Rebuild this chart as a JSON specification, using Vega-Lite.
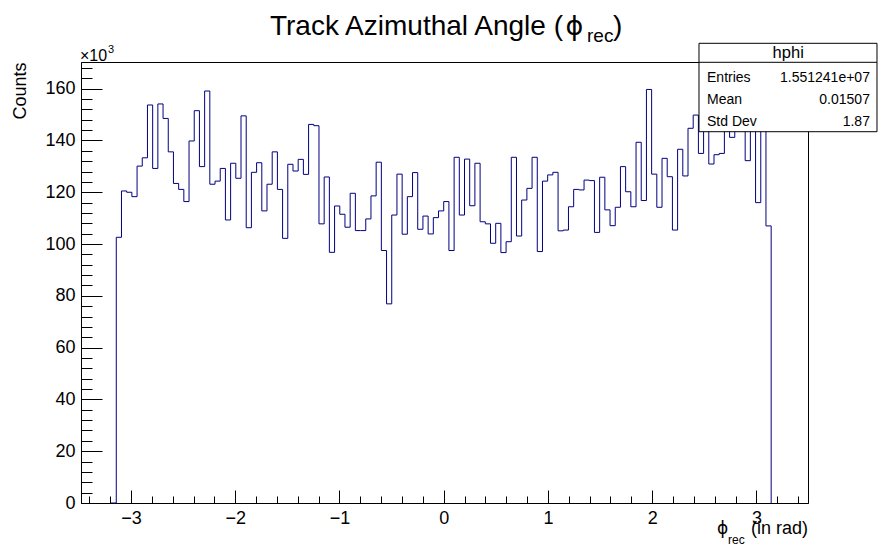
{
  "$schema": "https://vega.github.io/schema/vega-lite/v6.json",
  "autosize": "none",
  "width": 727,
  "height": 441,
  "padding": {"left": 81, "top": 62, "right": 71, "bottom": 44},
  "background": "white",
  "config": {
    "view": {"stroke": "black", "strokeWidth": 1},
    "font": "Liberation Sans",
    "axis": {"grid": false, "domainColor": "black", "tickColor": "black", "labelColor": "black", "labelFont": "Liberation Sans", "titleFont": "Liberation Sans"}
  },
  "data": {"values": [
    {"phi": -3.1915, "counts": 0},
    {"phi": -3.1416, "counts": 102600},
    {"phi": -3.0917, "counts": 120500},
    {"phi": -3.0419, "counts": 120000},
    {"phi": -2.992, "counts": 118300},
    {"phi": -2.9421, "counts": 130100},
    {"phi": -2.8923, "counts": 133300},
    {"phi": -2.8424, "counts": 153700},
    {"phi": -2.7925, "counts": 129200},
    {"phi": -2.7427, "counts": 154100},
    {"phi": -2.6928, "counts": 148500},
    {"phi": -2.6429, "counts": 135600},
    {"phi": -2.5931, "counts": 123400},
    {"phi": -2.5432, "counts": 121100},
    {"phi": -2.4933, "counts": 116400},
    {"phi": -2.4435, "counts": 139800},
    {"phi": -2.3936, "counts": 151500},
    {"phi": -2.3437, "counts": 129900},
    {"phi": -2.2939, "counts": 159100},
    {"phi": -2.244, "counts": 123100},
    {"phi": -2.1941, "counts": 124300},
    {"phi": -2.1443, "counts": 129200},
    {"phi": -2.0944, "counts": 109300},
    {"phi": -2.0445, "counts": 131200},
    {"phi": -1.9947, "counts": 125400},
    {"phi": -1.9448, "counts": 149500},
    {"phi": -1.8949, "counts": 106300},
    {"phi": -1.8451, "counts": 127700},
    {"phi": -1.7952, "counts": 131400},
    {"phi": -1.7453, "counts": 112800},
    {"phi": -1.6955, "counts": 123100},
    {"phi": -1.6456, "counts": 135600},
    {"phi": -1.5957, "counts": 121100},
    {"phi": -1.5459, "counts": 102200},
    {"phi": -1.496, "counts": 130800},
    {"phi": -1.4461, "counts": 128200},
    {"phi": -1.3963, "counts": 132700},
    {"phi": -1.3464, "counts": 126900},
    {"phi": -1.2965, "counts": 146200},
    {"phi": -1.2467, "counts": 145700},
    {"phi": -1.1968, "counts": 107800},
    {"phi": -1.1469, "counts": 125900},
    {"phi": -1.0971, "counts": 96800},
    {"phi": -1.0472, "counts": 114700},
    {"phi": -0.9973, "counts": 111500},
    {"phi": -0.9475, "counts": 106500},
    {"phi": -0.8976, "counts": 119600},
    {"phi": -0.8477, "counts": 105200},
    {"phi": -0.7979, "counts": 105200},
    {"phi": -0.748, "counts": 109700},
    {"phi": -0.6981, "counts": 118600},
    {"phi": -0.6483, "counts": 131600},
    {"phi": -0.5984, "counts": 97500},
    {"phi": -0.5485, "counts": 76900},
    {"phi": -0.4987, "counts": 111200},
    {"phi": -0.4488, "counts": 127000},
    {"phi": -0.3989, "counts": 103800},
    {"phi": -0.3491, "counts": 118300},
    {"phi": -0.2992, "counts": 127600},
    {"phi": -0.2493, "counts": 105700},
    {"phi": -0.1995, "counts": 110800},
    {"phi": -0.1496, "counts": 103900},
    {"phi": -0.0997, "counts": 110200},
    {"phi": -0.0499, "counts": 112800},
    {"phi": 0.0, "counts": 116400},
    {"phi": 0.0499, "counts": 97500},
    {"phi": 0.0997, "counts": 133500},
    {"phi": 0.1496, "counts": 111200},
    {"phi": 0.1995, "counts": 132800},
    {"phi": 0.2493, "counts": 114800},
    {"phi": 0.2992, "counts": 131200},
    {"phi": 0.3491, "counts": 108600},
    {"phi": 0.3989, "counts": 107800},
    {"phi": 0.4488, "counts": 100300},
    {"phi": 0.4987, "counts": 108000},
    {"phi": 0.5485, "counts": 96700},
    {"phi": 0.5984, "counts": 100900},
    {"phi": 0.6483, "counts": 133500},
    {"phi": 0.6981, "counts": 103100},
    {"phi": 0.748, "counts": 117000},
    {"phi": 0.7979, "counts": 121500},
    {"phi": 0.8477, "counts": 133500},
    {"phi": 0.8976, "counts": 97100},
    {"phi": 0.9475, "counts": 124300},
    {"phi": 0.9973, "counts": 126700},
    {"phi": 1.0472, "counts": 127700},
    {"phi": 1.0971, "counts": 105100},
    {"phi": 1.1469, "counts": 105400},
    {"phi": 1.1968, "counts": 114400},
    {"phi": 1.2467, "counts": 121100},
    {"phi": 1.2965, "counts": 120900},
    {"phi": 1.3464, "counts": 124700},
    {"phi": 1.3963, "counts": 124500},
    {"phi": 1.4461, "counts": 104500},
    {"phi": 1.496, "counts": 125800},
    {"phi": 1.5459, "counts": 113200},
    {"phi": 1.5957, "counts": 107100},
    {"phi": 1.6456, "counts": 114200},
    {"phi": 1.6955, "counts": 129900},
    {"phi": 1.7453, "counts": 120200},
    {"phi": 1.7952, "counts": 114400},
    {"phi": 1.8451, "counts": 139300},
    {"phi": 1.8949, "counts": 116800},
    {"phi": 1.9448, "counts": 159700},
    {"phi": 1.9947, "counts": 127000},
    {"phi": 2.0445, "counts": 114200},
    {"phi": 2.0944, "counts": 133100},
    {"phi": 2.1443, "counts": 126000},
    {"phi": 2.1941, "counts": 105400},
    {"phi": 2.244, "counts": 136600},
    {"phi": 2.2939, "counts": 126300},
    {"phi": 2.3437, "counts": 144700},
    {"phi": 2.3936, "counts": 149800},
    {"phi": 2.4435, "counts": 135000},
    {"phi": 2.4933, "counts": 150000},
    {"phi": 2.5432, "counts": 130900},
    {"phi": 2.5931, "counts": 134500},
    {"phi": 2.6429, "counts": 135000},
    {"phi": 2.6928, "counts": 148000},
    {"phi": 2.7427, "counts": 141200},
    {"phi": 2.7925, "counts": 151000},
    {"phi": 2.8424, "counts": 146000},
    {"phi": 2.8923, "counts": 132200},
    {"phi": 2.9421, "counts": 152000},
    {"phi": 2.992, "counts": 116000},
    {"phi": 3.0419, "counts": 148000},
    {"phi": 3.0917, "counts": 107000},
    {"phi": 3.1416, "counts": 0}
  ]},
  "resolve": {"axis": {"x": "independent", "y": "independent"}},
  "layer": [
    {
      "mark": {"type": "line", "interpolate": "step-after", "color": "#000080", "strokeWidth": 1},
      "encoding": {
        "x": {"field": "phi", "type": "quantitative", "sort": null,
          "scale": {"domain": [-3.48, 3.495], "nice": false, "zero": false},
          "axis": {"orient": "bottom", "values": [-3, -2, -1, 0, 1, 2, 3], "tickSize": -13, "labelPadding": 19, "labelFontSize": 18, "title": null, "domainWidth": 1, "tickWidth": 1, "labelFlush": false}},
        "y": {"field": "counts", "type": "quantitative",
          "scale": {"domain": [0, 170300], "nice": false, "zero": true},
          "axis": {"orient": "left", "values": [0, 20000, 40000, 60000, 80000, 100000, 120000, 140000, 160000], "labelExpr": "format(datum.value / 1000, 'd')", "tickSize": -21, "labelPadding": 27, "labelFontSize": 18, "labelFlush": false,
            "title": "Counts", "titleFontSize": 18, "titleFontWeight": "normal", "titleColor": "black", "titleAngle": 270, "titleAlign": "right", "titleBaseline": "middle", "titleX": -61, "titleY": 0}}
      }
    },
    {
      "mark": {"type": "line", "interpolate": "step-after", "strokeOpacity": 0},
      "encoding": {
        "x": {"field": "phi", "type": "quantitative", "sort": null,
          "scale": {"domain": [-3.48, 3.495], "nice": false, "zero": false},
          "axis": {"orient": "bottom", "values": [-3.4, -3.2, -2.8, -2.6, -2.4, -2.2, -1.8, -1.6, -1.4, -1.2, -0.8, -0.6, -0.4, -0.2, 0.2, 0.4, 0.6, 0.8, 1.2, 1.4, 1.6, 1.8, 2.2, 2.4, 2.6, 2.8, 3.2, 3.4], "tickSize": -7, "labels": false, "domain": false, "title": null}},
        "y": {"field": "counts", "type": "quantitative",
          "scale": {"domain": [0, 170300], "nice": false, "zero": true},
          "axis": {"orient": "left", "values": [4000, 8000, 12000, 16000, 24000, 28000, 32000, 36000, 44000, 48000, 52000, 56000, 64000, 68000, 72000, 76000, 84000, 88000, 92000, 96000, 104000, 108000, 112000, 116000, 124000, 128000, 132000, 136000, 144000, 148000, 152000, 156000, 164000, 168000], "tickSize": -11, "labels": false, "domain": false, "title": null}}
      }
    },
    {
      "data": {"values": [{}]},
      "mark": {"type": "rect", "fill": "white", "stroke": "black", "strokeWidth": 1},
      "encoding": {
        "x": {"datum": 2.4492, "type": "quantitative", "axis": null},
        "x2": {"datum": 4.157},
        "y": {"datum": 177520, "type": "quantitative", "axis": null},
        "y2": {"datum": 143380}
      }
    },
    {
      "data": {"values": [{}]},
      "mark": {"type": "rule", "color": "black", "strokeWidth": 1},
      "encoding": {
        "x": {"datum": 2.4492, "type": "quantitative", "axis": null},
        "x2": {"datum": 4.157},
        "y": {"datum": 170180, "type": "quantitative", "axis": null}
      }
    },
    {
      "data": {"values": [{}]},
      "mark": {"type": "text", "text": "Track Azimuthal Angle (", "align": "right", "baseline": "alphabetic", "fontSize": 28, "color": "black"},
      "encoding": {"x": {"datum": 1.1446, "type": "quantitative", "axis": null}, "y": {"datum": 180700, "type": "quantitative", "axis": null}}
    },
    {
      "data": {"values": [{}]},
      "mark": {"type": "text", "text": "ϕ", "font": "DejaVu Sans", "align": "center", "baseline": "alphabetic", "fontSize": 27, "color": "black"},
      "encoding": {"x": {"datum": 1.255, "type": "quantitative", "axis": null}, "y": {"datum": 180700, "type": "quantitative", "axis": null}}
    },
    {
      "data": {"values": [{}]},
      "mark": {"type": "text", "text": "rec", "align": "left", "baseline": "alphabetic", "fontSize": 19, "color": "black"},
      "encoding": {"x": {"datum": 1.375, "type": "quantitative", "axis": null}, "y": {"datum": 178000, "type": "quantitative", "axis": null}}
    },
    {
      "data": {"values": [{}]},
      "mark": {"type": "text", "text": ")", "align": "left", "baseline": "alphabetic", "fontSize": 28, "color": "black"},
      "encoding": {"x": {"datum": 1.6243, "type": "quantitative", "axis": null}, "y": {"datum": 180700, "type": "quantitative", "axis": null}}
    },
    {
      "data": {"values": [{}]},
      "mark": {"type": "text", "text": "×10", "align": "left", "baseline": "alphabetic", "fontSize": 16, "color": "black"},
      "encoding": {"x": {"datum": -3.4894, "type": "quantitative", "axis": null}, "y": {"datum": 170680, "type": "quantitative", "axis": null}}
    },
    {
      "data": {"values": [{}]},
      "mark": {"type": "text", "text": "3", "align": "left", "baseline": "alphabetic", "fontSize": 11, "color": "black"},
      "encoding": {"x": {"datum": -3.2208, "type": "quantitative", "axis": null}, "y": {"datum": 173770, "type": "quantitative", "axis": null}}
    },
    {
      "data": {"values": [{}]},
      "mark": {"type": "text", "text": "ϕ", "font": "DejaVu Sans", "align": "center", "baseline": "alphabetic", "fontSize": 17, "color": "black"},
      "encoding": {"x": {"datum": 2.6749, "type": "quantitative", "axis": null}, "y": {"datum": -11971, "type": "quantitative", "axis": null}}
    },
    {
      "data": {"values": [{}]},
      "mark": {"type": "text", "text": "rec", "align": "left", "baseline": "alphabetic", "fontSize": 12, "color": "black"},
      "encoding": {"x": {"datum": 2.7276, "type": "quantitative", "axis": null}, "y": {"datum": -15833, "type": "quantitative", "axis": null}}
    },
    {
      "data": {"values": [{}]},
      "mark": {"type": "text", "text": "(in rad)", "align": "right", "baseline": "alphabetic", "fontSize": 18, "color": "black"},
      "encoding": {"x": {"datum": 3.4952, "type": "quantitative", "axis": null}, "y": {"datum": -11971, "type": "quantitative", "axis": null}}
    },
    {
      "data": {"values": [{}]},
      "mark": {"type": "text", "text": "hphi", "align": "center", "baseline": "alphabetic", "fontSize": 16.5, "color": "black"},
      "encoding": {"x": {"datum": 3.3052, "type": "quantitative", "axis": null}, "y": {"datum": 171720, "type": "quantitative", "axis": null}}
    },
    {
      "data": {"values": [{"label": "Entries", "value": "1.551241e+07", "row": 162570}, {"label": "Mean", "value": "0.01507", "row": 154270}, {"label": "Std Dev", "value": "1.87", "row": 145580}]},
      "layer": [
        {
          "mark": {"type": "text", "align": "left", "baseline": "alphabetic", "fontSize": 14, "color": "black"},
          "encoding": {"x": {"datum": 2.5261, "type": "quantitative", "axis": null}, "y": {"field": "row", "type": "quantitative", "axis": null}, "text": {"field": "label"}}
        },
        {
          "mark": {"type": "text", "align": "right", "baseline": "alphabetic", "fontSize": 14, "color": "black"},
          "encoding": {"x": {"datum": 4.0893, "type": "quantitative", "axis": null}, "y": {"field": "row", "type": "quantitative", "axis": null}, "text": {"field": "value"}}
        }
      ]
    }
  ]
}
